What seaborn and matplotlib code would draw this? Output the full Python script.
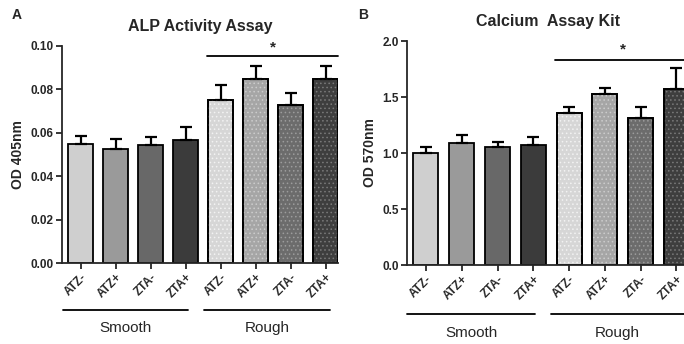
import numpy as np
import pandas as pd
import seaborn as sns
import matplotlib.pyplot as plt
import matplotlib as mpl

# data
groups = ['Smooth'] * 4 + ['Rough'] * 4
samples = ['ATZ-', 'ATZ+', 'ZTA-', 'ZTA+', 'ATZ-', 'ATZ+', 'ZTA-', 'ZTA+']
alp_mean = [0.055, 0.0525, 0.0545, 0.0565, 0.075, 0.085, 0.073, 0.0848]
alp_err = [0.0035, 0.0045, 0.0035, 0.006, 0.007, 0.006, 0.0055, 0.006]
ca_mean = [1.0, 1.09, 1.055, 1.07, 1.36, 1.525, 1.315, 1.57]
ca_err = [0.055, 0.07, 0.045, 0.075, 0.055, 0.055, 0.095, 0.19]

bar_colors = ['#cfcfcf', '#9a9a9a', '#686868', '#3b3b3b',
              '#d6d6d6', '#a6a6a6', '#6c6c6c', '#3e3e3e']
dot_colors = [None, None, None, None, '#f2f2f2', '#cccccc', '#9c9c9c', '#7a7a7a']

sns.set_style('ticks')
plt.rcParams['font.family'] = ['Liberation Sans', 'DejaVu Sans']
plt.rcParams['hatch.linewidth'] = 0.6

df = pd.DataFrame({'key': [f'{g} {s}' for g, s in zip(groups, samples)],
                   'alp': alp_mean, 'ca': ca_mean})

fig = plt.figure(figsize=(6.84, 3.44), dpi=100)
axA = fig.add_axes([62 / 684, 81 / 344, 276 / 684, 217 / 344])
axB = fig.add_axes([407 / 684, 79 / 344, 282 / 684, 224 / 344])


def panel(ax, col, err, ymax, ystep, fmt, ylabel, title, sig_y, star_y):
    sns.barplot(data=df, x='key', y=col, hue='key', palette=bar_colors,
                legend=False, width=0.7, edgecolor='black', linewidth=1.3,
                ax=ax, saturation=1)
    x = np.arange(len(samples))
    ax.errorbar(x, df[col], yerr=[np.zeros(len(err)), err], fmt='none',
                ecolor='black', elinewidth=1.6, capsize=4.5, capthick=1.6, zorder=1)
    for i, p in enumerate(ax.patches):
        if dot_colors[i] is not None:
            r = mpl.patches.Rectangle(p.get_xy(), p.get_width(), p.get_height(),
                                      fill=False, hatch='....', lw=0,
                                      edgecolor=dot_colors[i], zorder=p.get_zorder() + 0.1)
            ax.add_patch(r)
            # redraw outline on top
            o = mpl.patches.Rectangle(p.get_xy(), p.get_width(), p.get_height(),
                                      fill=False, lw=1.3, edgecolor='black',
                                      zorder=p.get_zorder() + 0.2)
            ax.add_patch(o)
    ax.set_ylim(0, ymax)
    ax.set_xlim(-0.53, 7.35)
    ax.set_yticks(np.arange(0, ymax + ystep / 2, ystep))
    ax.yaxis.set_major_formatter(mpl.ticker.FormatStrFormatter(fmt))
    ax.set_xticks(x)
    ax.set_xticklabels(samples, rotation=45, ha='right', rotation_mode='anchor',
                       fontsize=8.5, fontweight='bold')
    for lab in ax.get_yticklabels():
        lab.set_fontweight('bold')
        lab.set_fontsize(8.5)
    ax.tick_params(length=4, width=1.3, pad=2)
    ax.set_xlabel('')
    ax.set_ylabel(ylabel, fontsize=10, fontweight='bold', labelpad=4)
    ax.set_title(title, fontsize=11.5, fontweight='bold', pad=11)
    for s in ['left', 'bottom']:
        ax.spines[s].set_linewidth(1.3)
    sns.despine(ax=ax)
    ax.plot([3.6, 7.35], [sig_y, sig_y], color='black', lw=1.3, clip_on=False)
    ax.text(5.5, star_y, '*', ha='center', va='center', fontsize=11, fontweight='bold')


panel(axA, 'alp', alp_err, 0.10, 0.02, '%.2f', 'OD 405nm', 'ALP Activity Assay',
      0.0954, 0.0995)
panel(axB, 'ca', ca_err, 2.0, 0.5, '%.1f', 'OD 570nm', 'Calcium  Assay Kit',
      1.83, 1.925)

# group lines and labels under the tick labels
tr = fig.transFigure
for (x0, x1, y, tx, ty, name) in [
        (63, 188, 310, 125, 328, 'Smooth'), (204, 330, 310, 267, 328, 'Rough'),
        (407, 535, 314, 471, 333, 'Smooth'), (551, 684, 314, 617, 333, 'Rough')]:
    fig.add_artist(plt.Line2D([x0 / 684, x1 / 684], [1 - y / 344, 1 - y / 344],
                              color='black', lw=1.3, transform=tr))
    fig.text(tx / 684, 1 - ty / 344, name, ha='center', va='center', fontsize=11)

fig.text(12 / 684, 1 - 15 / 344, 'A', fontsize=10, fontweight='bold', va='center')
fig.text(358 / 684, 1 - 15 / 344, 'B', fontsize=10, fontweight='bold', va='center')

fig.savefig('out.png', dpi=100)
